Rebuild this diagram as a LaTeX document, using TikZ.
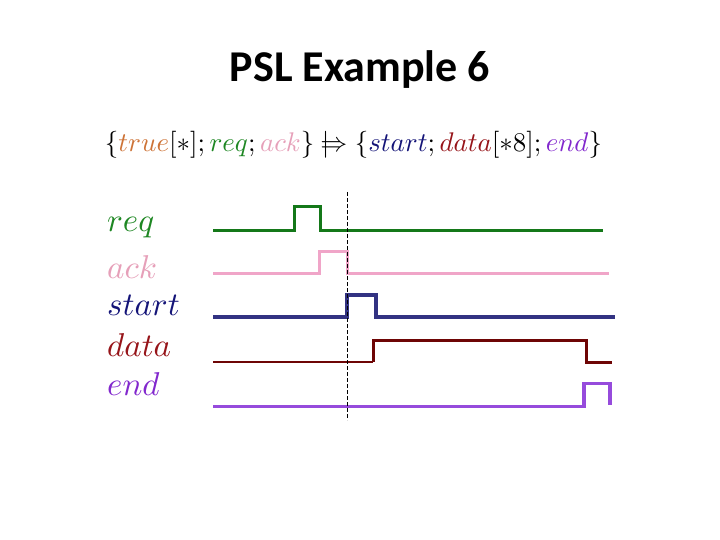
\documentclass[tikz,border=0pt]{standalone}
\usepackage{fontspec}
\usepackage{graphicx}
\newfontfamily\titlefont{Carlito}
\definecolor{cgreen}{RGB}{20,120,25}
\definecolor{cpink}{RGB}{240,165,200}
\definecolor{cnavy}{RGB}{50,50,130}
\definecolor{cdred}{RGB}{110,5,5}
\definecolor{cpurple}{RGB}{150,75,220}
\definecolor{lgreen}{RGB}{30,135,35}
\definecolor{lpink}{RGB}{230,160,185}
\definecolor{lnavy}{RGB}{20,20,120}
\definecolor{ldred}{RGB}{150,20,25}
\definecolor{lpurple}{RGB}{130,40,205}
\definecolor{corange}{RGB}{205,115,55}
\tikzset{
  lbl/.style={anchor=base west, inner sep=0pt},
  sig/.style={line width=3pt, line join=miter},
}
\newcommand{\biglbl}[1]{\scalebox{3.3}{$#1$}}
\begin{document}
\begin{tikzpicture}[x=1pt,y=-1pt]
\useasboundingbox (0,0) rectangle (720,540);
\node[inner sep=0pt, anchor=base] (title) at (360,82) {\titlefont\bfseries\fontsize{44}{50}\selectfont PSL Example 6};
\node[inner sep=0pt] (formula) at (353.5,145) {\resizebox{497pt}{!}{$\{\textcolor{corange}{true}[*];\textcolor{lgreen}{req};\textcolor{lpink}{ack}\}\mathrel{|}\!\!\Rightarrow\{\textcolor{lnavy}{start};\textcolor{ldred}{data}[*8];\textcolor{lpurple}{end}\}$}};
\node[lbl, text=lgreen] (lreq) at (107,231) {\biglbl{req}};
\node[lbl, text=lpink] (lack) at (107,278) {\biglbl{ack}};
\node[lbl, text=lnavy] (lstart) at (107,315) {\biglbl{start}};
\node[lbl, text=ldred] (ldata) at (107,356) {\biglbl{data}};
\node[lbl, text=lpurple] (lend) at (107,395) {\biglbl{end}};
% signals
\draw[sig, cgreen] (213,230.7) -- (294.3,230.7) -- (294.3,206.7) -- (320,206.7) -- (320,230.7) -- (603,230.7);
\draw[sig, cpink] (213,273.3) -- (319.3,273.3) -- (319.3,251.7) -- (347.3,251.7) -- (347.3,273.3) -- (609.3,273.3);
\draw[sig, cnavy, line width=4pt] (213,316.7) -- (347.3,316.7) -- (347.3,295.3) -- (375.7,295.3) -- (375.7,316.7) -- (615,316.7);
\draw[cdred, line width=1.8pt] (213,362.3) -- (373.3,362.3);
\draw[sig, cdred] (373.3,362.3) -- (373.3,340.7) -- (586.7,340.7) -- (586.7,362.3) -- (611.7,362.3);
\draw[sig, cpurple, line width=3.5pt] (213,406.7) -- (584,406.7) -- (584,383.3) -- (610,383.3) -- (610,405);
\draw[line width=0.8pt, dash pattern=on 4pt off 2pt] (347.3,192) -- (347.3,420);
\end{tikzpicture}
\end{document}
